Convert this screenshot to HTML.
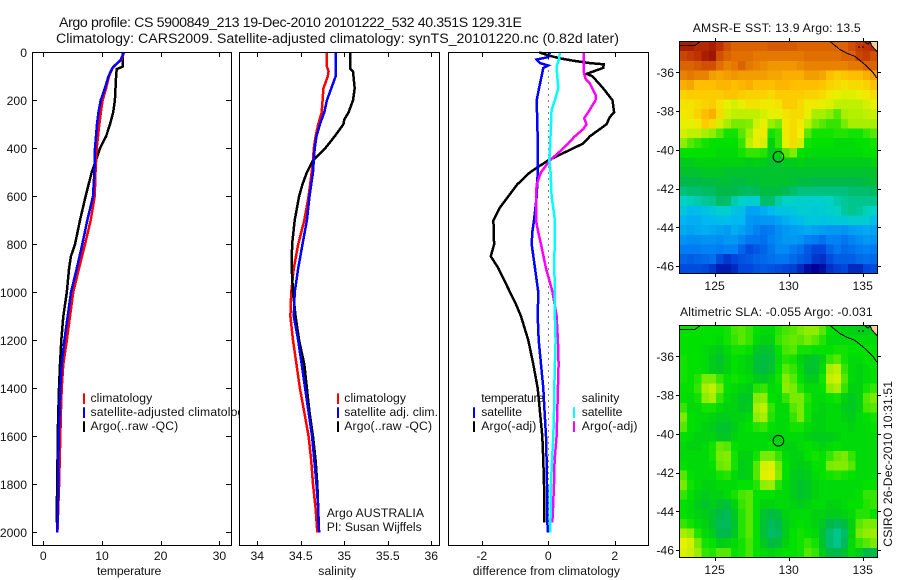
<!DOCTYPE html>
<html lang="en">
<head>
<meta charset="utf-8">
<title>Argo profile CS 5900849_213</title>
<style>
html,body{margin:0;padding:0;background:#fff;}
svg{display:block;}
text{font-family:"Liberation Sans",sans-serif;font-size:12.2px;fill:#111;}
.title{font-size:14.2px;}
.box{fill:none;stroke:#000;stroke-width:1;}
.bg{fill:#fff;}
.tick{stroke:#000;stroke-width:1;}
.mid{text-anchor:middle;}
.end{text-anchor:end;}
</style>
</head>
<body>
<svg id="chart" xmlns="http://www.w3.org/2000/svg" width="900" height="580" viewBox="0 0 900 580">
  <rect width="900" height="580" fill="#fff"/>
  <text class="title" x="59" y="27" textLength="463" lengthAdjust="spacing">Argo profile: CS 5900849_213 19-Dec-2010 20101222_532 40.351S 129.31E</text>
  <text class="title" x="56" y="43" textLength="563" lengthAdjust="spacing">Climatology: CARS2009. Satellite-adjusted climatology: synTS_20101220.nc (0.82d later)</text>

  <g id="panelT">
    <rect class="bg" x="32.5" y="52.5" width="199" height="493"/>
    <g id="marksT"></g>
    <g id="ticksT"></g>
    <rect class="box" x="32.5" y="52.5" width="199" height="493"/>
    <rect x="83" y="393.3" width="2" height="10.7" fill="#f00"/>
    <rect x="83" y="407.3" width="2" height="10.7" fill="#00f"/>
    <rect x="83" y="421.3" width="2" height="10.7" fill="#000"/>
    <text x="90.5" y="402" textLength="61.7" lengthAdjust="spacing">climatology</text>
    <text x="90.5" y="416" textLength="160" lengthAdjust="spacing">satellite-adjusted climatology</text>
    <text x="90.5" y="430" textLength="87.7" lengthAdjust="spacing">Argo(..raw -QC)</text>
    <text x="97" y="575" textLength="64.3" lengthAdjust="spacing">temperature</text>
  </g>

  <g id="panelS">
    <rect class="bg" x="239.5" y="52.5" width="200" height="493"/>
    <g id="marksS"></g>
    <g id="ticksS"></g>
    <rect class="box" x="239.5" y="52.5" width="200" height="493"/>
    <rect x="337" y="393.3" width="2" height="10.7" fill="#f00"/>
    <rect x="337" y="407.3" width="2" height="10.7" fill="#00f"/>
    <rect x="337" y="421.3" width="2" height="10.7" fill="#000"/>
    <text x="344.3" y="402" textLength="61.7" lengthAdjust="spacing">climatology</text>
    <text x="344.3" y="416" textLength="93.7" lengthAdjust="spacing">satellite adj. clim.</text>
    <text x="344.3" y="430" textLength="87.7" lengthAdjust="spacing">Argo(..raw -QC)</text>
    <text x="326.7" y="517" textLength="97.3" lengthAdjust="spacing">Argo AUSTRALIA</text>
    <text x="326.7" y="531" textLength="95" lengthAdjust="spacing">PI: Susan Wijffels</text>
    <text x="318.3" y="575" textLength="37.7" lengthAdjust="spacing">salinity</text>
  </g>

  <g id="panelD">
    <rect class="bg" x="448.5" y="52.5" width="200" height="493"/>
    <g id="marksD"></g>
    <g id="ticksD"></g>
    <rect class="box" x="448.5" y="52.5" width="200" height="493"/>
    <text x="481.3" y="402" textLength="62.7" lengthAdjust="spacing">temperature</text>
    <rect x="473" y="407.3" width="2" height="10.7" fill="#00f"/>
    <rect x="473" y="421.3" width="2" height="10.7" fill="#000"/>
    <text x="481.3" y="416" textLength="40.7" lengthAdjust="spacing">satellite</text>
    <text x="481.3" y="430" textLength="55" lengthAdjust="spacing">Argo(-adj)</text>
    <text x="581.7" y="402" textLength="37.7" lengthAdjust="spacing">salinity</text>
    <rect x="573" y="407.3" width="2" height="10.7" fill="#0ff"/>
    <rect x="573" y="421.3" width="2" height="10.7" fill="#f0f"/>
    <text x="581.7" y="416" textLength="40.7" lengthAdjust="spacing">satellite</text>
    <text x="581.7" y="430" textLength="55.7" lengthAdjust="spacing">Argo(-adj)</text>
    <text x="472.7" y="575" textLength="147.3" lengthAdjust="spacing">difference from climatology</text>
  </g>

  <g id="mapSst">
    <text x="692.7" y="32" textLength="168" lengthAdjust="spacing">AMSR-E SST: 13.9 Argo: 13.5</text>
    <g id="cellsSst" shape-rendering="crispEdges"></g>
    <g id="overSst"></g>
  </g>
  <g id="mapSla">
    <text x="680" y="316" textLength="192.7" lengthAdjust="spacing">Altimetric SLA: -0.055 Argo: -0.031</text>
    <g id="cellsSla" shape-rendering="crispEdges"></g>
    <g id="overSla"></g>
  </g>
  <text transform="translate(892,546.7) rotate(-90)" textLength="165.7" lengthAdjust="spacing">CSIRO 26-Dec-2010 10:31:51</text>
</svg>

<script>
/* ---------- profile data (pressure in dbar, value in axis units) ---------- */
const tempTicks = [0, 10, 20, 30];
const salTicks = [34, 34.5, 35, 35.5, 36];
const salTickLabels = ["34", "34.5", "35", "35.5", "36"];
const diffTicks = [-2, 0, 2];
const depthTicks = [0, 200, 400, 600, 800, 1000, 1200, 1400, 1600, 1800, 2000];

const tempArgoDepths = [0, 60, 70, 100, 200, 250, 300, 350, 400, 450, 500, 600, 700, 800, 850, 900, 1000, 1100, 1200, 1300, 1400, 1500, 1600, 1800, 1900, 1960];
const tempArgoValues = [13.5, 13.5, 12.5, 12.4, 12.2, 11.9, 11.36, 10.7, 9.66, 8.98, 8.24, 7.2, 6.25, 5.4, 4.7, 4.4, 4.0, 3.4, 3.07, 2.85, 2.67, 2.56, 2.45, 2.39, 2.28, 2.28];
const tempClimDepths = [0, 30, 60, 100, 150, 200, 250, 300, 400, 500, 600, 700, 800, 900, 1000, 1100, 1200, 1300, 1400, 1500, 1600, 1800, 2000];
const tempClimValues = [13.75, 13.35, 11.9, 11.2, 10.7, 10.1, 9.8, 9.54, 9.1, 8.9, 8.75, 8.07, 7.1, 6.08, 5.1, 4.55, 4.0, 3.4, 3.13, 3.0, 2.9, 2.7, 2.4];
const tempSatDepths = [0, 30, 70, 100, 150, 200, 250, 300, 400, 500, 600, 700, 800, 900, 1000, 1100, 1200, 1300, 1400, 1500, 1600, 1800, 2000];
const tempSatValues = [13.75, 13.2, 11.65, 11.1, 10.5, 9.78, 9.4, 9.15, 8.8, 8.7, 8.47, 7.5, 6.65, 5.7, 4.72, 4.16, 3.6, 3.13, 2.9, 2.8, 2.6, 2.56, 2.39];

const salArgoDepths = [0, 70, 80, 150, 200, 250, 280, 300, 330, 350, 400, 450, 500, 550, 600, 700, 800, 900, 1000, 1100, 1200, 1300, 1400, 1500, 1600, 1700, 1800, 1900, 1960];
const salArgoValues = [35.07, 35.07, 35.1, 35.12, 35.1, 35.05, 35.0, 34.99, 34.93, 34.89, 34.78, 34.64, 34.57, 34.52, 34.48, 34.43, 34.4, 34.395, 34.41, 34.44, 34.48, 34.54, 34.57, 34.6, 34.64, 34.67, 34.69, 34.7, 34.7];
const salClimDepths = [0, 60, 80, 100, 130, 150, 200, 250, 300, 350, 400, 450, 500, 600, 700, 800, 900, 1000, 1100, 1200, 1300, 1400, 1500, 1600, 1700, 1800, 1900, 2000];
const salClimValues = [34.8, 34.8, 34.82, 34.81, 34.78, 34.76, 34.75, 34.74, 34.7, 34.67, 34.65, 34.64, 34.625, 34.59, 34.54, 34.47, 34.42, 34.39, 34.38, 34.41, 34.45, 34.49, 34.54, 34.59, 34.62, 34.64, 34.67, 34.69];
const salSatDepths = [0, 100, 120, 150, 200, 250, 300, 350, 400, 450, 500, 600, 700, 800, 900, 1000, 1100, 1200, 1300, 1400, 1500, 1600, 1700, 1800, 1900, 2000];
const salSatValues = [34.9, 34.9, 34.88, 34.85, 34.8, 34.77, 34.72, 34.68, 34.66, 34.65, 34.64, 34.6, 34.57, 34.52, 34.47, 34.43, 34.42, 34.47, 34.51, 34.55, 34.59, 34.63, 34.655, 34.68, 34.7, 34.71];

const diffTempArgoDepths = [0, 15, 25, 35, 45, 50, 65, 90, 100, 150, 200, 250, 270, 300, 350, 380, 400, 450, 500, 550, 600, 650, 700, 800, 850, 900, 1000, 1050, 1100, 1200, 1300, 1400, 1500, 1600, 1700, 1800, 1900, 1960];
const diffTempArgoValues = [-0.27, 0.05, 0.35, 0.75, 1.25, 1.67, 1.65, 1.15, 1.33, 1.65, 1.93, 1.98, 1.85, 1.75, 1.25, 1.05, 0.75, 0, -0.55, -0.93, -1.2, -1.47, -1.65, -1.63, -1.73, -1.5, -1.15, -0.97, -0.82, -0.6, -0.45, -0.32, -0.25, -0.18, -0.15, -0.13, -0.12, -0.12];
const diffTempSatDepths = [0, 20, 30, 45, 55, 65, 100, 150, 200, 300, 400, 500, 600, 700, 750, 800, 900, 1000, 1100, 1200, 1300, 1400, 1500, 1600, 1700, 1800, 1900, 2000];
const diffTempSatValues = [0.05, 0, -0.35, -0.25, 0, -0.15, -0.2, -0.28, -0.35, -0.33, -0.31, -0.32, -0.35, -0.43, -0.48, -0.5, -0.4, -0.3, -0.32, -0.29, -0.22, -0.15, -0.11, -0.07, -0.05, -0.04, -0.03, -0.02];
const diffSalSatDepths = [0, 30, 60, 100, 150, 200, 240, 300, 400, 450, 500, 600, 650, 700, 800, 900, 1000, 1100, 1200, 1300, 1400, 1500, 1600, 1700, 1800, 2000];
const diffSalSatValues = [0.35, 0.32, 0.25, 0.27, 0.3, 0.2, 0.1, 0.08, 0.05, 0.03, 0.07, 0.1, 0.15, 0.2, 0.19, 0.18, 0.2, 0.2, 0.22, 0.2, 0.18, 0.17, 0.15, 0.11, 0.08, 0.06];
const diffSalArgoDepths = [0, 60, 85, 110, 130, 180, 200, 250, 275, 300, 320, 350, 400, 450, 500, 550, 600, 700, 750, 800, 900, 1000, 1100, 1200, 1300, 1400, 1500, 1600, 1700, 1800, 1900, 1960];
const diffSalArgoValues = [1.07, 1.07, 1.07, 1.12, 1.25, 1.43, 1.42, 1.2, 1.08, 1.15, 1.05, 0.8, 0.45, 0.05, -0.22, -0.35, -0.37, -0.37, -0.3, -0.22, -0.07, 0.13, 0.25, 0.29, 0.31, 0.29, 0.27, 0.25, 0.19, 0.17, 0.14, 0.12];

/* ---------- map data (colour index 0 to 100, north to south) ---------- */
const mapLonTicks = [125, 130, 135];
const mapLatTicks = [-36, -38, -40, -42, -44, -46];
const floatLon = 129.31;
const floatLat = -40.351;
const coastEastLon = [132.79, 133.47, 133.92, 134.48, 135.16, 135.72, 135.95];
const coastEastLat = [-34.4, -34.82, -35.0, -35.17, -35.6, -36.03, -36.29];
const coastWestLon = [122.63, 123.69, 124.02];
const coastWestLat = [-34.6, -34.6, -34.4];
const landLon = [135.45, 136, 136, 135.63];
const landLat = [-34.4, -34.4, -34.89, -34.63];
const shoreLon = [135.16, 135.36, 135.5, 135.63, 136];
const shoreLat = [-34.43, -34.53, -34.42, -34.63, -34.95];
const isletLon = [134.68, 135.16];
const isletLat = [-34.68, -34.68];

const sstValues = [
[97,97,96,96,97,95,92,90,90,90,90,90,91,91,91,91,90,90,90,90,90,90,90,92,94,95,96],
[93,94,95,97,98,92,90,89,89,89,88,88,88,88,88,88,88,89,89,89,89,89,90,90,93,94,92],
[90,90,91,92,92,89,87,88,90,88,87,86,85,85,85,85,86,87,87,87,87,87,87,88,88,90,90],
[87,88,87,87,84,83,84,85,84,84,84,84,83,83,82,82,82,84,84,83,80,78,79,80,80,82,84],
[82,83,80,80,80,81,81,80,81,82,80,80,80,81,81,80,80,80,80,79,77,76,75,76,76,77,80],
[77,78,78,78,78,78,79,79,78,77,77,77,76,78,78,78,78,77,77,76,74,72,71,71,72,74,76],
[75,75,76,77,78,75,72,70,72,75,75,74,74,75,78,78,76,74,74,72,71,68,68,68,68,70,72],
[74,75,77,80,82,76,70,68,68,68,68,70,72,72,75,76,76,72,66,66,64,60,66,67,67,68,69],
[72,72,74,78,76,70,66,62,62,63,70,72,65,62,74,76,74,68,62,60,58,58,62,66,66,66,66],
[70,68,68,66,64,60,56,56,60,66,72,74,56,58,74,76,73,60,56,56,56,57,57,56,56,58,60],
[64,60,58,56,55,55,55,55,58,68,72,70,53,58,72,76,70,56,55,55,55,54,54,54,55,55,56],
[55,55,55,55,55,54,54,54,56,58,58,57,52,53,60,63,55,54,54,54,54,54,54,54,54,55,55],
[52,52,53,53,53,53,53,53,53,52,53,52,50,50,52,52,53,52,52,52,52,52,52,52,52,52,53],
[50,50,50,51,51,51,50,50,50,50,50,50,50,50,50,50,50,50,50,50,50,50,50,50,50,50,50],
[47,47,47,48,48,49,49,48,48,49,49,50,50,50,50,49,48,48,47,47,47,47,47,47,47,48,49],
[43,44,44,45,45,47,47,47,46,45,46,48,48,48,46,44,43,43,43,43,43,43,43,44,44,44,45],
[38,39,40,41,42,45,44,40,38,36,37,44,44,40,38,38,37,37,37,37,38,40,41,42,42,42,42],
[34,30,31,33,35,37,37,33,32,26,26,28,30,33,33,34,36,36,35,36,37,38,41,42,41,39,38],
[29,28,28,30,30,31,31,30,30,24,23,24,24,26,28,30,32,34,34,33,34,35,35,36,36,36,32],
[27,26,27,28,27,26,25,28,26,23,20,18,19,22,24,25,26,27,26,25,24,24,23,25,26,27,26],
[23,22,22,23,23,22,24,24,21,18,18,17,20,22,24,24,23,20,19,17,20,20,18,20,22,24,23],
[19,19,19,20,20,19,20,20,15,11,13,15,18,21,21,19,17,13,10,10,15,18,16,17,19,20,19],
[15,14,15,16,17,11,8,10,12,13,15,16,17,18,18,16,14,12,8,7,11,14,14,14,16,17,16],
[11,11,11,10,8,4,4,6,10,10,12,13,12,11,10,9,6,2,0,2,7,9,10,6,6,10,11]
];

const slaValues = [
[55,55,55,55,55,55,56,59,60,58,55,54,54,57,59,60,62,64,64,60,55,54,53,53,52,52,52],
[55,55,55,55,55,54,56,58,60,58,54,53,53,58,60,61,60,62,60,57,54,54,54,54,54,54,54],
[55,55,55,54,53,52,54,56,56,55,51,50,50,55,59,60,56,56,55,55,55,56,56,55,55,55,55],
[56,55,55,54,52,50,53,55,54,53,49,48,49,54,57,56,53,51,50,53,58,60,56,54,54,55,55],
[56,55,55,54,52,51,53,55,54,53,49,48,50,55,60,58,54,50,50,54,66,68,58,54,53,54,55],
[56,55,57,62,62,58,55,56,55,54,52,51,53,56,63,60,55,52,52,56,68,70,60,54,53,54,55],
[55,55,58,66,68,62,55,54,53,52,57,58,54,55,64,62,57,54,54,55,64,66,58,53,53,56,58],
[55,54,56,64,66,58,54,53,51,51,63,64,55,54,58,62,62,57,54,54,55,56,53,51,53,60,62],
[58,54,54,56,56,54,53,53,51,52,66,68,58,54,54,60,62,56,54,53,54,54,52,51,53,59,60],
[62,55,54,54,53,52,52,53,53,54,64,66,57,54,54,58,62,56,53,53,54,54,53,52,54,55,56],
[60,55,54,53,52,50,50,52,54,55,57,58,55,54,54,56,56,54,53,53,54,54,54,53,54,54,55],
[55,54,53,53,53,51,51,53,54,54,54,54,53,53,54,54,54,53,52,52,52,53,54,54,54,54,54],
[54,53,53,54,56,61,60,55,54,54,54,54,55,54,53,53,54,55,54,53,54,55,54,54,54,54,54],
[54,54,54,54,56,62,63,56,53,53,56,62,62,58,54,53,53,55,56,55,58,61,62,58,54,54,54],
[55,54,54,54,55,61,62,56,52,53,60,70,71,62,55,53,52,53,55,55,62,63,63,60,54,54,54],
[60,55,54,54,54,56,57,54,52,53,60,71,72,63,55,52,51,52,54,55,56,57,56,55,54,54,54],
[62,56,54,53,53,54,54,54,55,55,57,64,65,57,54,52,50,51,53,54,54,54,54,54,54,55,55],
[58,55,53,52,53,53,54,56,59,60,55,55,55,54,54,52,50,51,53,54,54,54,54,54,55,58,58],
[55,54,52,50,52,50,49,53,58,60,55,53,53,54,54,53,52,53,54,54,53,53,54,55,55,57,58],
[55,54,53,52,50,47,46,51,57,60,55,50,48,49,53,54,54,54,53,53,52,52,53,54,57,57,55],
[58,56,54,53,50,46,46,50,57,60,55,49,46,47,52,54,55,54,53,51,47,46,48,53,60,62,62],
[66,64,57,54,52,47,47,51,57,60,55,49,45,46,52,55,56,55,54,49,44,42,45,53,62,64,65],
[72,70,62,56,55,52,53,54,56,59,55,51,48,49,53,55,56,58,56,50,44,42,46,54,58,60,62],
[71,69,65,58,57,60,60,55,56,59,55,54,53,54,55,55,56,60,58,52,48,47,50,54,52,47,47]
];

/* ---------- axis functions ---------- */
const NS = "http://www.w3.org/2000/svg";
function yDepth(d) { return 52.3 + d * 0.24; }
function xTemp(v) { return 43.3 + v * 5.87; }
function xSal(v) { return 257.3 + (v - 34) * 87; }
function xDiff(v) { return 548.3 + v * 33.25; }
const mapLeft = 679.5, mapRight = 877.5, mapWest = 122.63, mapEast = 136;
function xLon(lon) { return mapLeft + (lon - mapWest) / (mapEast - mapWest) * (mapRight - mapLeft); }
function yLat(lat, top) { return top + (-34.4 - lat) * 19.36; }

function make(tag, parent, attrs) {
  const el = document.createElementNS(NS, tag);
  for (const k in attrs) el.setAttribute(k, attrs[k]);
  parent.appendChild(el);
  return el;
}

function drawProfile(parentId, xFn, depths, values, color, name) {
  const parent = document.getElementById(parentId);
  const pts = depths.map(function (d, i) { return xFn(values[i]).toFixed(1) + "," + yDepth(d).toFixed(1); }).join(" ");
  const line = make("polyline", parent, { points: pts, fill: "none", stroke: color, "stroke-width": 2.5, "shape-rendering": "crispEdges", "stroke-linejoin": "miter" });
  
  
}

function drawTicks(parentId, vals, labels, xFn) {
  const parent = document.getElementById(parentId);
  vals.forEach(function (v, i) {
    const x = Math.round(xFn(v)) + 0.5;
    const t1 = make("line", parent, { class: "tick", x1: x, x2: x, y1: 52.5, y2: 57 });
    
    
    const t2 = make("line", parent, { class: "tick", x1: x, x2: x, y1: 545.5, y2: 541 });
    
    
    const lab = make("text", parent, { class: "mid", x: xFn(v), y: 560 });
    lab.textContent = labels[i];
    
    
  });
}

function drawDepthAxis() {
  const parent = document.getElementById("ticksT");
  depthTicks.forEach(function (d) {
    const y = Math.round(yDepth(d)) + 0.5;
    const t1 = make("line", parent, { class: "tick", x1: 32.5, x2: 37, y1: y, y2: y });
    
    
    const t2 = make("line", parent, { class: "tick", x1: 231.5, x2: 226, y1: y, y2: y });
    
    
    const lab = make("text", parent, { class: "end", x: 27, y: yDepth(d) + 4.5 });
    lab.textContent = String(d);
    
    
  });
}

const colorStops = [[0,0,0,150],[10,0,70,220],[20,0,130,245],[30,0,185,240],[38,0,210,200],[44,0,190,110],[47,0,185,75],[50,0,195,45],[53,0,210,15],[55,0,225,0],[62,120,235,0],[68,190,240,0],[73,240,240,0],[80,255,190,0],[85,240,150,0],[90,220,100,0],[95,190,50,0],[100,140,0,0]];
function colorOf(v) {
  for (let i = 1; i < colorStops.length; i++) {
    const a = colorStops[i - 1], b = colorStops[i];
    if (v <= b[0]) {
      const t = (v - a[0]) / (b[0] - a[0]);
      return "rgb(" + [1, 2, 3].map(function (k) { return Math.round(a[k] + (b[k] - a[k]) * t); }).join(",") + ")";
    }
  }
  return "rgb(140,0,0)";
}

function drawMap(cellsId, overId, grid, top, bottom, prefix) {
  const cells = document.getElementById(cellsId);
  const over = document.getElementById(overId);
  const nRows = grid.length, nCols = grid[0].length;
  const cw = (mapRight - mapLeft) / nCols, ch = (bottom - top) / nRows;
  grid.forEach(function (row, r) {
    row.forEach(function (v, c) {
      const cell = make("rect", cells, { x: (mapLeft + c * cw).toFixed(2), y: (top + r * ch).toFixed(2), width: (cw + 0.3).toFixed(2), height: (ch + 0.3).toFixed(2), fill: colorOf(v) });
      
      
    });
  });
  const land = make("polygon", over, { points: landLon.map(function (lon, i) { return xLon(lon).toFixed(1) + "," + yLat(landLat[i], top).toFixed(1); }).join(" "), fill: "#ffcc99" });
  
  
  [[coastEastLon, coastEastLat], [coastWestLon, coastWestLat], [shoreLon, shoreLat]].forEach(function (pair) {
    const coast = make("polyline", over, { points: pair[0].map(function (lon, i) { return xLon(lon).toFixed(1) + "," + yLat(pair[1][i], top).toFixed(1); }).join(" "), fill: "none", stroke: "#000", "stroke-width": 1, "shape-rendering": "crispEdges" });
    
    
  });
  const islets = make("polyline", over, { points: isletLon.map(function (lon, i) { return xLon(lon).toFixed(1) + "," + yLat(isletLat[i], top).toFixed(1); }).join(" "), fill: "none", stroke: "#000", "stroke-width": 1, "stroke-dasharray": "2 2", "shape-rendering": "crispEdges" });
  
  
  const frame = make("rect", over, { class: "box", x: mapLeft, y: top, width: mapRight - mapLeft, height: bottom - top });
  
  
  mapLonTicks.forEach(function (lon) {
    const x = Math.round(xLon(lon)) + 0.5;
    const t1 = make("line", over, { class: "tick", x1: x, x2: x, y1: top, y2: top - 3.5 });
    
    
    const t2 = make("line", over, { class: "tick", x1: x, x2: x, y1: bottom, y2: bottom + 3.5 });
    
    
    const lab = make("text", over, { class: "mid", x: xLon(lon), y: bottom + 16.5 });
    lab.textContent = String(lon);
    
    
  });
  mapLatTicks.forEach(function (lat) {
    const y = Math.round(yLat(lat, top)) + 0.5;
    const t1 = make("line", over, { class: "tick", x1: mapLeft, x2: mapLeft - 3.5, y1: y, y2: y });
    
    
    const t2 = make("line", over, { class: "tick", x1: mapRight, x2: mapRight + 3.5, y1: y, y2: y });
    
    
    const lab = make("text", over, { class: "end", x: 674, y: yLat(lat, top) + 4.5 });
    lab.textContent = String(lat);
    
    
  });
  const marker = make("circle", over, { cx: xLon(floatLon), cy: yLat(floatLat, top), r: 5.3, fill: "none", stroke: "#000", "stroke-width": 1 });
  
  
}

/* ---------- draw ---------- */
drawProfile("marksT", xTemp, tempArgoDepths, tempArgoValues, "#000", "temperature-argo-line");
drawProfile("marksT", xTemp, tempClimDepths, tempClimValues, "#f00", "temperature-climatology-line");
drawProfile("marksT", xTemp, tempSatDepths, tempSatValues, "#00f", "temperature-satellite-line");

drawProfile("marksS", xSal, salClimDepths, salClimValues, "#f00", "salinity-climatology-line");
drawProfile("marksS", xSal, salArgoDepths, salArgoValues, "#000", "salinity-argo-line");
drawProfile("marksS", xSal, salSatDepths, salSatValues, "#00f", "salinity-satellite-line");

const zeroLine = make("line", document.getElementById("marksD"), { x1: xDiff(0), x2: xDiff(0), y1: yDepth(0), y2: yDepth(2000), stroke: "#000", "stroke-width": 1, "stroke-dasharray": "1 5", "shape-rendering": "crispEdges" });


drawProfile("marksD", xDiff, diffTempArgoDepths, diffTempArgoValues, "#000", "difference-temperature-argo-line");
drawProfile("marksD", xDiff, diffTempSatDepths, diffTempSatValues, "#00f", "difference-temperature-satellite-line");
drawProfile("marksD", xDiff, diffSalArgoDepths, diffSalArgoValues, "#f0f", "difference-salinity-argo-line");
drawProfile("marksD", xDiff, diffSalSatDepths, diffSalSatValues, "#0ff", "difference-salinity-satellite-line");

drawTicks("ticksT", tempTicks, tempTicks.map(String), xTemp);
drawTicks("ticksS", salTicks, salTickLabels, xSal);
drawTicks("ticksD", diffTicks, diffTicks.map(String), xDiff);
drawDepthAxis();

drawMap("cellsSst", "overSst", sstValues, 41.5, 273.5, "sst-map");
drawMap("cellsSla", "overSla", slaValues, 325.5, 557.5, "sla-map");
</script>
</body>
</html>
